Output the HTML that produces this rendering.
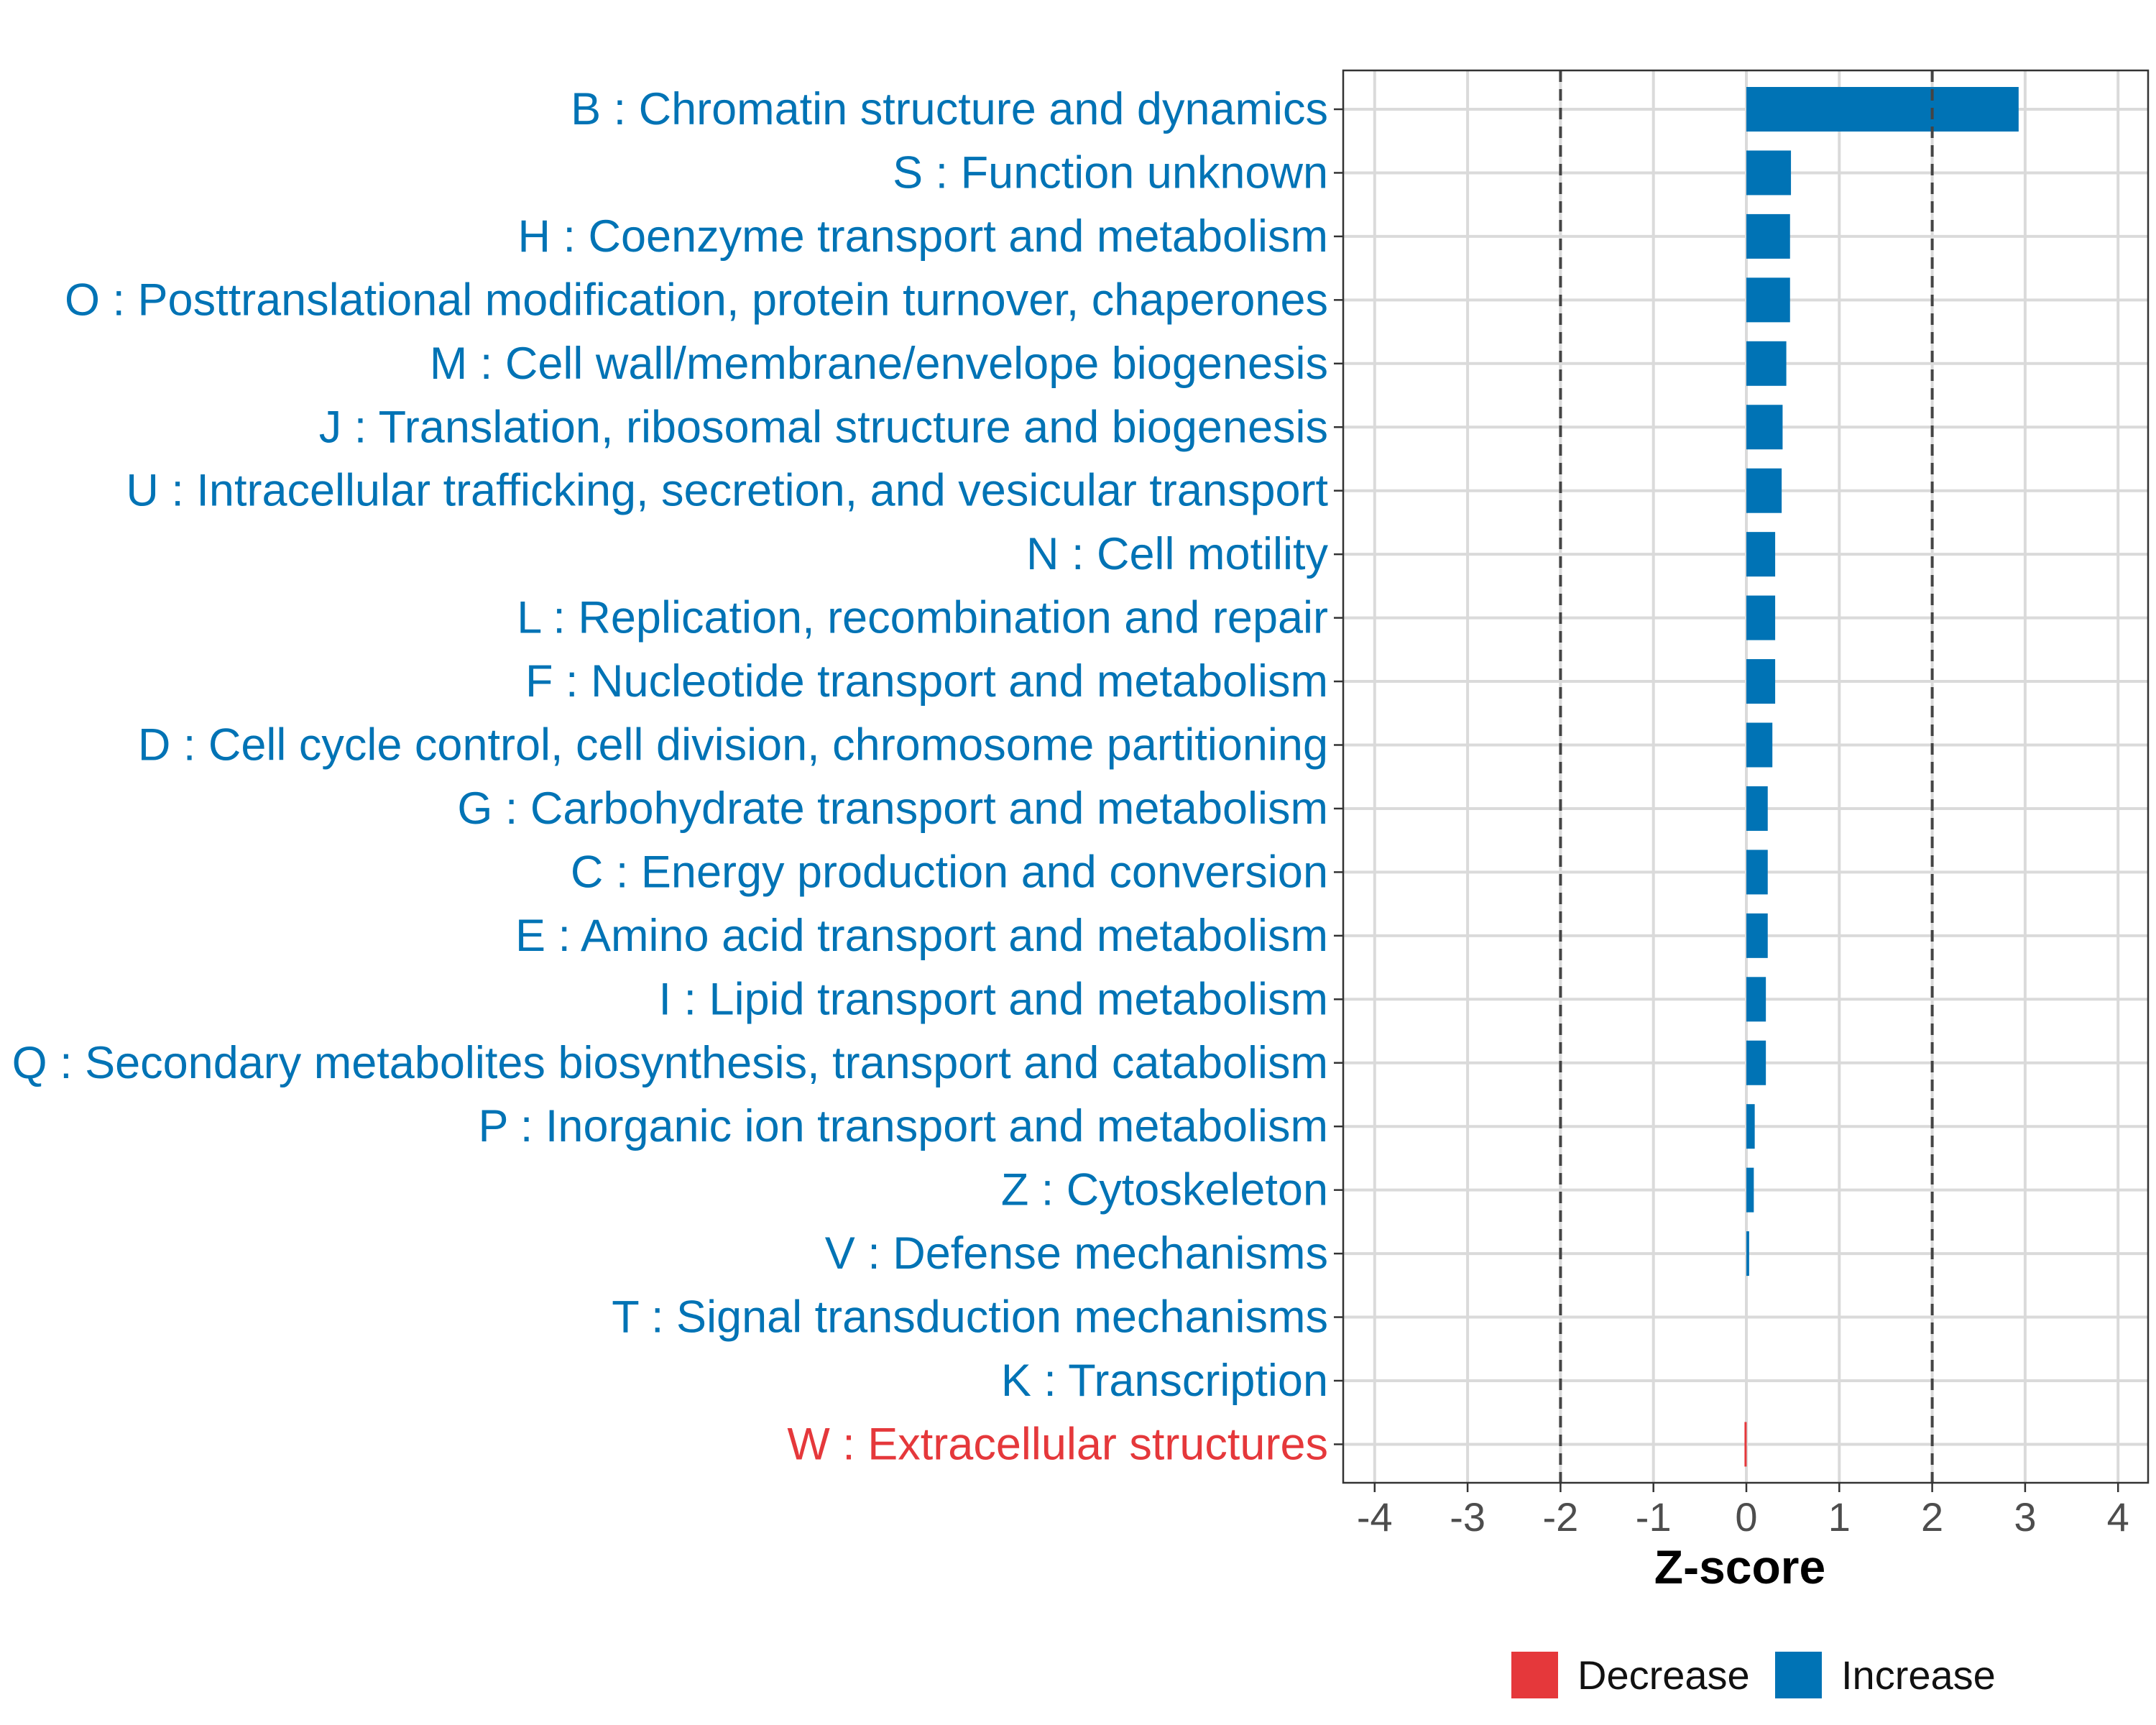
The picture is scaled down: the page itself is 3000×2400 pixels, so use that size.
<!DOCTYPE html>
<html><head><meta charset="utf-8"><style>
html,body{margin:0;padding:0;background:#fff;}
svg{display:block;font-family:"Liberation Sans",Arial,sans-serif;}
</style></head><body>
<svg id="chart" width="3000" height="2400" viewBox="0 0 3000 2400">
<rect x="0" y="0" width="3000" height="2400" fill="#fff"/>
<g id="grid"></g>
<g id="bars"></g>
<g id="ylabels"></g>
<g id="xticks"></g>
<rect x="1869" y="98" width="1120" height="1965" fill="none" stroke="#333" stroke-width="2.5"/>
<text x="2421" y="2203" font-size="66" font-weight="bold" text-anchor="middle" fill="#000">Z-score</text>
<g>
<rect x="2103" y="2298" width="65" height="65" fill="#E5383B"/>
<text x="2195" y="2350" font-size="56" fill="#111">Decrease</text>
<rect x="2470" y="2298" width="65" height="65" fill="#0073B5"/>
<text x="2562" y="2350" font-size="56" fill="#111">Increase</text>
</g>
</svg>
<script>
const categories = ["B : Chromatin structure and dynamics","S : Function unknown","H : Coenzyme transport and metabolism","O : Posttranslational modification, protein turnover, chaperones","M : Cell wall/membrane/envelope biogenesis","J : Translation, ribosomal structure and biogenesis","U : Intracellular trafficking, secretion, and vesicular transport","N : Cell motility","L : Replication, recombination and repair","F : Nucleotide transport and metabolism","D : Cell cycle control, cell division, chromosome partitioning","G : Carbohydrate transport and metabolism","C : Energy production and conversion","E : Amino acid transport and metabolism","I : Lipid transport and metabolism","Q : Secondary metabolites biosynthesis, transport and catabolism","P : Inorganic ion transport and metabolism","Z : Cytoskeleton","V : Defense mechanisms","T : Signal transduction mechanisms","K : Transcription","W : Extracellular structures"];
const zscores = [2.93,0.48,0.47,0.47,0.43,0.39,0.38,0.31,0.31,0.31,0.28,0.23,0.23,0.23,0.21,0.21,0.09,0.08,0.03,0,0,-0.02];
const xTicks = [-4,-3,-2,-1,0,1,2,3,4];
const thresholds = [-2,2];

const NS="http://www.w3.org/2000/svg";
const x = v => 2430 + v*129.3;
const y = i => 152 + i*88.45;
const barH = 62;
function mk(tag, attrs, parent){const e=document.createElementNS(NS,tag);for(const k in attrs)e.setAttribute(k,attrs[k]);parent.appendChild(e);return e;}
const grid=document.getElementById('grid'), bars=document.getElementById('bars'), yl=document.getElementById('ylabels'), xt=document.getElementById('xticks');
xTicks.forEach(t=>{
  const l=mk('line',{x1:x(t),x2:x(t),y1:98,y2:2063,stroke:'#dadada','stroke-width':4},grid);
  
  
  const tk=mk('line',{x1:x(t),x2:x(t),y1:2063,y2:2076,stroke:'#333','stroke-width':2.5},xt);
  
  
  const tx=mk('text',{x:x(t),y:2130,'font-size':56,'text-anchor':'middle',fill:'#4d4d4d'},xt);
  tx.textContent=String(t);
  
  
});
categories.forEach((c,i)=>{
  const l=mk('line',{x1:1869,x2:2989,y1:y(i),y2:y(i),stroke:'#dadada','stroke-width':4},grid);
  
  
  const tk=mk('line',{x1:1856,x2:1869,y1:y(i),y2:y(i),stroke:'#333','stroke-width':2.5},yl);
  
  
  const v=zscores[i];
  const col = v<0 ? '#E5383B' : '#0073B5';
  const t=mk('text',{x:1848,y:y(i)+21,'font-size':63,'text-anchor':'end',fill:col},yl);
  t.textContent=c;
  
  
  const w=Math.abs(x(v)-x(0));
  const b=mk('rect',{x:Math.min(x(v),x(0)),y:y(i)-barH/2,width:w>0?Math.max(w,3):0,height:barH,fill:col},bars);
  
  
});
thresholds.forEach(t=>{
  const d=mk('line',{x1:x(t),x2:x(t),y1:98,y2:2063,stroke:'#444','stroke-width':4,'stroke-dasharray':'16,10'},bars);
  
  
});
</script>
</body></html>
